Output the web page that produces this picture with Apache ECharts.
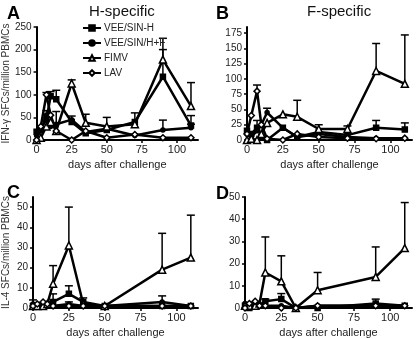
<!DOCTYPE html>
<html>
<head>
<meta charset="utf-8">
<script src="https://cdn.jsdelivr.net/npm/echarts@6/dist/echarts.min.js"></script>
<style>
html,body{margin:0;padding:0;background:#fff}
#chart{width:416px;height:339px}
</style>
</head>
<body>
<div id="chart"></div>
<script>
// sampling days (x)
const days = [0, 3, 7, 10, 14, 25, 35, 50, 70, 90, 110];
const groupNames = ['VEE/SIN-H', 'VEE/SIN/H+F', 'FIMV', 'LAV'];
const xTicks = [0, 25, 50, 75, 100];

// A: IFN-g, H-specific
const aVeeH  = [18, 25, 45, 97, 90, 40, 15, 22, 40, 140, 32];
const aVeeHF = [10, 20, 55, 30, 35, 45, 18, 25, 10, 22, 27];
const aFimv  = [0, 5, 30, 40, 20, 125, 38, 30, 35, 178, 75];
const aLav   = [0, 30, 100, 55, 20, 0, 20, 5, 12, 5, 5];
const aVeeHSem  = [0, 0, 0, 10, 20, 0, 0, 0, 0, 60, 22];
const aVeeHFSem = [0, 0, 10, 0, 28, 8, 0, 0, 0, 22, 8];
const aFimvSem  = [0, 0, 0, 0, 0, 8, 19, 20, 25, 47, 52];
const aLavSem   = [0, 0, 5, 0, 0, 0, 0, 0, 0, 0, 0];

// B: IFN-g, F-specific
const bVeeH  = [15, 10, 20, 5, 0, 20, 5, 13, 8, 20, 17];
const bVeeHF = [10, 5, 15, 25, 45, 20, 5, 10, 5, 3, 3];
const bFimv  = [0, 2, 0, 10, 28, 42, 38, 18, 18, 113, 92];
const bLav   = [10, 40, 80, 25, 2, 0, 10, 5, 3, 2, 3];
const bVeeHSem  = [0, 0, 12, 0, 0, 0, 0, 0, 0, 12, 11];
const bVeeHFSem = [0, 0, 0, 0, 7, 0, 0, 0, 0, 0, 0];
const bFimvSem  = [0, 0, 0, 0, 0, 0, 27, 7, 5, 45, 80];
const bLavSem   = [0, 0, 10, 0, 0, 0, 0, 0, 0, 0, 0];

// C: IL-4, H-specific
const cVeeH  = [1, 1, 1, 2, 3, 7, 3, 1, null, 1, 1];
const cVeeHF = [2, 1, 2, 1, 1, 2, 1, 1, null, 3, 1];
const cFimv  = [1, 1, 1, 2, 12, 31, 2, 1, null, 19, 25];
const cLav   = [1, 2, 3, 2, 1, 1, 1, 1, null, 1, 1];
const cVeeHSem  = [0, 0, 0, 0, 4, 4, 2, 0, 0, 0, 0];
const cVeeHFSem = [2, 0, 0, 0, 0, 0, 0, 0, 0, 3, 0];
const cFimvSem  = [0, 0, 0, 0, 9, 19, 0, 0, 0, 18, 21];
const cLavSem   = [0, 0, 0, 0, 0, 2, 0, 0, 0, 0, 0];

// D: IL-4, F-specific
const dVeeH  = [1, 0, 1, 1, 3, 4, 0, 0, null, 2, 1];
const dVeeHF = [2, 1, 2, 1, 1, 1, 0, 1, null, 1, 1];
const dFimv  = [1, 1, 1, 2, 16, 12, 0, 8, null, 14, 27];
const dLav   = [0, 2, 3, 1, 1, 0, 0, 1, null, 1, 1];
const dVeeHSem  = [0, 0, 0, 0, 1, 2.5, 0, 0, 0, 2, 0];
const dVeeHFSem = [0, 0, 0, 0, 0, 0, 0, 0, 0, 0, 0];
const dFimvSem  = [0, 0, 0, 0, 16, 11.5, 0, 8, 0, 13.5, 20.5];
const dLavSem   = [0, 0, 0, 0, 0, 0, 0, 0, 0, 0, 0];

const yTicksA = [0, 50, 100, 150, 200, 250];
const yTicksB = [0, 25, 50, 75, 100, 125, 150, 175];
const yTicksC = [0, 10, 20, 30, 40, 50];
const yTicksD = [0, 10, 20, 30, 40, 50];

const font = 'Liberation Sans, Arial, sans-serif';
const markers = [
    {symbol: 'rect', size: 5, fill: '#000'},
    {symbol: 'circle', size: 4, fill: '#000'},
    {symbol: 'triangle', size: 7, fill: '#fff'},
    {symbol: 'diamond', size: 6, fill: '#fff'}
];

function lineSeries(gi, k, values) {
    const m = markers[k];
    return {
        type: 'line',
        name: groupNames[k],
        xAxisIndex: gi,
        yAxisIndex: gi,
        data: days.map((d, i) => [d, values[i]]),
        connectNulls: true,
        symbol: m.symbol,
        symbolSize: m.size,
        showAllSymbol: true,
        lineStyle: {color: '#000', width: 2.5},
        itemStyle: {color: m.fill, borderColor: '#000', borderWidth: 1.5},
        z: 3
    };
}

function errSeries(gi, values, sem) {
    const data = [];
    days.forEach((d, i) => {
        if (sem[i] && values[i] != null) data.push([d, values[i], values[i] + sem[i]]);
    });
    return {
        type: 'custom',
        xAxisIndex: gi,
        yAxisIndex: gi,
        data: data,
        silent: true,
        z: 2,
        renderItem: function(params, api) {
            const p0 = api.coord([api.value(0), api.value(1)]);
            const p1 = api.coord([api.value(0), api.value(2)]);
            return {type: 'group', children: [
                {type: 'line', shape: {x1: p0[0], y1: p0[1], x2: p1[0], y2: p1[1]}, style: {stroke: '#000', lineWidth: 1.5}},
                {type: 'line', shape: {x1: p1[0] - 4, y1: p1[1], x2: p1[0] + 4, y2: p1[1]}, style: {stroke: '#000', lineWidth: 1.5}}
            ]};
        }
    };
}

function panel(gi, vals, sems) {
    let out = [];
    vals.forEach((v, k) => {
        out.push(errSeries(gi, v, sems[k]));
        out.push(lineSeries(gi, k, v));
    });
    return out;
}

function xAxis(gi) {
    return {
        type: 'value', gridIndex: gi, min: 0, max: 115,
        name: 'days after challenge', nameLocation: 'middle', nameGap: 19,
        nameTextStyle: {fontSize: 11, color: '#222', fontFamily: font},
        axisLine: {lineStyle: {color: '#000', width: 2}},
        axisTick: {length: 3, lineStyle: {color: '#000', width: 1.5}, customValues: xTicks},
        axisLabel: {fontSize: 11, color: '#222', margin: 4, customValues: xTicks},
        splitLine: {show: false}
    };
}

function yAxis(gi, max, ticks, name) {
    return {
        type: 'value', gridIndex: gi, min: 0, max: max,
        name: name || '', nameLocation: 'middle', nameGap: 22, nameRotate: 90,
        nameTextStyle: {fontSize: 10, color: '#333', fontFamily: font},
        axisLine: {show: true, lineStyle: {color: '#000', width: 2}},
        axisTick: {show: true, length: 3, lineStyle: {color: '#000', width: 1.5}, customValues: ticks},
        axisLabel: {fontSize: 10, color: '#222', margin: 5, customValues: ticks},
        splitLine: {show: false}
    };
}

const chart = echarts.init(document.getElementById('chart'));
const option = {
    animation: false,
    backgroundColor: '#fff',
    textStyle: {fontFamily: font},
    title: [
        {text: 'A', left: 2, top: 0, textStyle: {fontSize: 18, fontWeight: 'bold', color: '#000', fontFamily: font}},
        {text: 'H-specific', left: 84, top: -1, textStyle: {fontSize: 15, fontWeight: 'normal', color: '#111', fontFamily: font}},
        {text: 'B', left: 211, top: 0, textStyle: {fontSize: 18, fontWeight: 'bold', color: '#000', fontFamily: font}},
        {text: 'F-specific', left: 302, top: -1, textStyle: {fontSize: 15, fontWeight: 'normal', color: '#111', fontFamily: font}},
        {text: 'C', left: 2, top: 179, textStyle: {fontSize: 18, fontWeight: 'bold', color: '#000', fontFamily: font}},
        {text: 'D', left: 211, top: 180, textStyle: {fontSize: 18, fontWeight: 'bold', color: '#000', fontFamily: font}}
    ],
    legend: {
        data: groupNames,
        orient: 'vertical',
        left: 77,
        top: 18,
        itemWidth: 18,
        itemHeight: 7,
        itemGap: 5,
        textStyle: {fontSize: 10, color: '#222', fontFamily: font, padding: [0, 0, 0, -2]},
        selectedMode: false
    },
    grid: [
        {left: 32, top: 27, width: 166, height: 113},
        {left: 247, top: 27, width: 165, height: 113},
        {left: 32, top: 197, width: 166, height: 114},
        {left: 245, top: 197, width: 167, height: 114}
    ],
    xAxis: [xAxis(0), xAxis(1), xAxis(2), xAxis(3)],
    yAxis: [
        yAxis(0, 250, yTicksA, 'IFN-\u03b3 SFCs/million PBMCs'),
        yAxis(1, 185, yTicksB),
        yAxis(2, 55, yTicksC, 'IL-4 SFCs/million PBMCs'),
        yAxis(3, 50, yTicksD)
    ],
    series: [].concat(
        panel(0, [aVeeH, aVeeHF, aFimv, aLav], [aVeeHSem, aVeeHFSem, aFimvSem, aLavSem]),
        panel(1, [bVeeH, bVeeHF, bFimv, bLav], [bVeeHSem, bVeeHFSem, bFimvSem, bLavSem]),
        panel(2, [cVeeH, cVeeHF, cFimv, cLav], [cVeeHSem, cVeeHFSem, cFimvSem, cLavSem]),
        panel(3, [dVeeH, dVeeHF, dFimv, dLav], [dVeeHSem, dVeeHFSem, dFimvSem, dLavSem])
    )
};
chart.setOption(option);
</script>
</body>
</html>
